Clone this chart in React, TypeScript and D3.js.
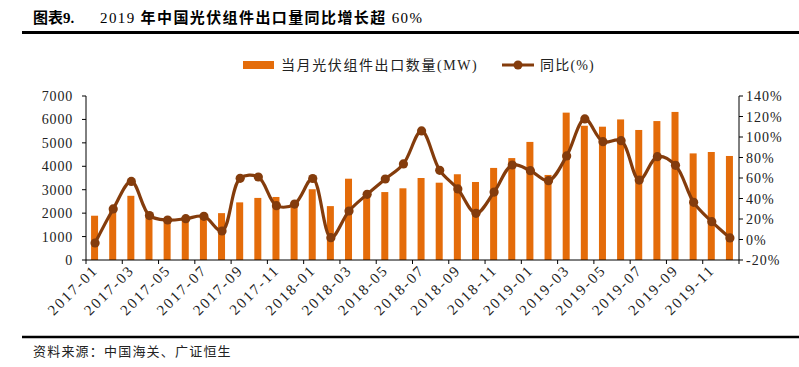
import React from "react";
import * as d3 from "d3";

const months = [
  "2017-01","2017-02","2017-03","2017-04","2017-05","2017-06","2017-07","2017-08","2017-09","2017-10","2017-11","2017-12",
  "2018-01","2018-02","2018-03","2018-04","2018-05","2018-06","2018-07","2018-08","2018-09","2018-10","2018-11","2018-12",
  "2019-01","2019-02","2019-03","2019-04","2019-05","2019-06","2019-07","2019-08","2019-09","2019-10","2019-11","2019-12",
];
const volume = [
  1890, 2150, 2740, 2000, 1750, 1820, 1850, 2000, 2460, 2650, 2690, 2350,
  3020, 2300, 3470, 2850, 2900, 3060, 3500, 3300, 3660, 3330, 3930, 4350,
  5040, 3630, 6290, 5730, 5690, 6000, 5550, 5930, 6320, 4550, 4610, 4440,
];
const yoy = [
  -3.4, 29.8, 56.7, 23.3, 19.0, 20.3, 22.6, 8.3, 59.7, 61.0, 33.0, 34.6,
  59.5, 1.8, 27.8, 44.1, 59.0, 73.7, 105.9, 67.5, 49.3, 25.5, 46.3, 72.7,
  67.1, 57.4, 81.5, 117.6, 95.4, 96.4, 58.0, 80.8, 72.4, 36.3, 17.4, 1.5,
];
const leftTicks = [0, 1000, 2000, 3000, 4000, 5000, 6000, 7000];
const rightTicks = [-20, 0, 20, 40, 60, 80, 100, 120, 140];
const titlePrefix = "图表9.";
const titleYear = "2019";
const titleMid = "年中国光伏组件出口量同比增长超";
const titleEnd = "60%";
const legendBar = "当月光伏组件出口数量(MW)";
const legendLine = "同比(%)";
const sourceText = "资料来源：中国海关、广证恒生";

const W = 799, H = 367;
const plotL = 86, plotR = 739, plotT = 96, plotB = 260;
const barColor = "#E46C0A";
const lineColor = "#843C0C";
const font = "'Liberation Serif', 'Times New Roman', 'Noto Sans CJK SC', serif";
const cjk = "'Liberation Serif', 'Noto Sans CJK SC', sans-serif";

export default function App() {
  const x = d3.scaleBand<string>().domain(months).range([plotL, plotR]).paddingInner(0).paddingOuter(0);
  const yL = d3.scaleLinear().domain([0, 7000]).range([plotB, plotT]);
  const yR = d3.scaleLinear().domain([-20, 140]).range([plotB, plotT]);
  const bw = 7;
  const cxOf = (i: number) => (x(months[i]) as number) + x.bandwidth() / 2;
  const line = d3
    .line<number>()
    .x((_, i) => cxOf(i))
    .y((d) => yR(d))
    .curve(d3.curveCatmullRom.alpha(0.5));

  const tickIdx = months.map((_, i) => i).filter((i) => i % 2 === 0);

  return (
    <svg width={W} height={H} style={{ position: "absolute", left: 0, top: 0, background: "#fff" }}>
      {/* title */}
      <text x={33} y={23} fontFamily={cjk} fontSize={15} fontWeight="bold" fill="#000">{titlePrefix}</text>
      <text x={100} y={23} fontFamily={cjk} fontSize={15} fill="#000" letterSpacing={1.4}>
        <tspan>{titleYear}</tspan>
        <tspan dx={5} fontWeight="bold">{titleMid}</tspan>
        <tspan dx={5}>{titleEnd}</tspan>
      </text>
      <line x1={22} x2={799} y1={32.5} y2={32.5} stroke="#000" strokeWidth={3} />

      {/* legend */}
      <rect x={243} y={61} width={31} height={8} fill={barColor} />
      <text x={281} y={70} fontFamily={cjk} fontSize={14} fill="#222" letterSpacing={1.6}>{legendBar}</text>
      <line x1={502} x2={534} y1={65} y2={65} stroke={lineColor} strokeWidth={3} />
      <circle cx={518} cy={65} r={4.5} fill={lineColor} />
      <text x={540} y={70} fontFamily={cjk} fontSize={14} fill="#222" letterSpacing={1.2}>{legendLine}</text>

      {/* bars */}
      {volume.map((v, i) => (
        <rect
          key={i}
          x={cxOf(i) - bw / 2 - 0.5}
          y={yL(v)}
          width={bw}
          height={plotB - yL(v)}
          fill={barColor}
        />
      ))}

      {/* line */}
      <path d={line(yoy) || ""} fill="none" stroke={lineColor} strokeWidth={3.2} />
      {yoy.map((v, i) => (
        <circle key={i} cx={cxOf(i)} cy={yR(v)} r={4.6} fill={lineColor} />
      ))}

      {/* left axis */}
      <line x1={plotL} x2={plotL} y1={plotT} y2={plotB} stroke="#000" strokeWidth={1} />
      {leftTicks.map((t) => (
        <g key={t}>
          <line x1={plotL - 4} x2={plotL} y1={yL(t)} y2={yL(t)} stroke="#000" />
          <text x={73} y={yL(t) + 5} textAnchor="end" fontFamily={font} fontSize={14} fill="#222" letterSpacing={0.8}>{t}</text>
        </g>
      ))}

      {/* right axis */}
      <line x1={plotR} x2={plotR} y1={plotT} y2={plotB} stroke="#000" strokeWidth={1} />
      {rightTicks.map((t) => (
        <g key={t}>
          <line x1={plotR} x2={plotR + 4} y1={yR(t)} y2={yR(t)} stroke="#000" />
          <text x={746} y={yR(t) + 5} textAnchor="start" fontFamily={font} fontSize={14} fill="#222" letterSpacing={1}>{t + "%"}</text>
        </g>
      ))}

      {/* x axis */}
      <line x1={plotL} x2={plotR} y1={plotB} y2={plotB} stroke="#000" strokeWidth={1} />
      {tickIdx.concat([36]).map((i) => {
        const xx = i < 36 ? (x(months[i]) as number) : plotR;
        return <line key={"t" + i} x1={xx} x2={xx} y1={plotB} y2={plotB + 4} stroke="#000" />;
      })}
      {tickIdx.map((i) => {
        const cx = cxOf(i) + 4;
        const cy = 271;
        return (
          <text
            key={"l" + i}
            x={cx}
            y={cy}
            textAnchor="end"
            fontFamily={font}
            fontSize={15}
            fill="#222"
            letterSpacing={2}
            transform={`rotate(-45 ${cx} ${cy})`}
          >
            {months[i]}
          </text>
        );
      })}

      {/* source */}
      <line x1={22} x2={799} y1={337} y2={337} stroke="#000" strokeWidth={2.5} />
      <text x={33} y={356} fontFamily={cjk} fontSize={13} fill="#222" letterSpacing={1.2}>{sourceText}</text>
    </svg>
  );
}
